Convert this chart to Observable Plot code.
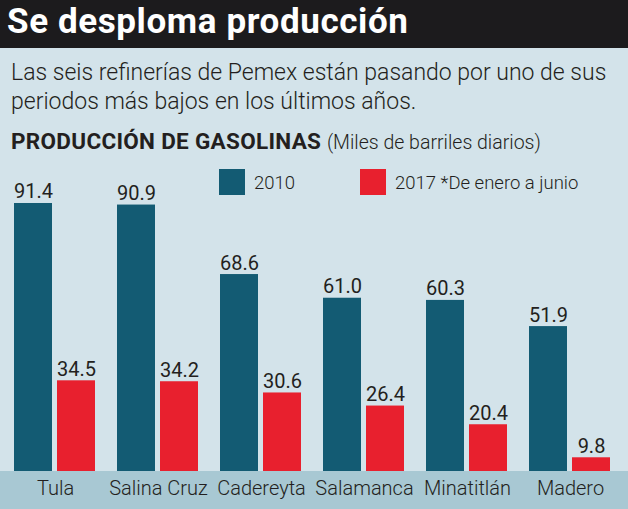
<!DOCTYPE html>
<html>
<head>
<meta charset="utf-8">
<script src="https://cdn.jsdelivr.net/npm/d3@7"></script>
<script src="https://cdn.jsdelivr.net/npm/@observablehq/plot@0.6"></script>
<style>
  html, body { margin: 0; padding: 0; }
  body { width: 628px; height: 509px; overflow: hidden; font-family: Roboto, "Open Sans", sans-serif; color: #231f20; }
  #wrap { position: relative; width: 628px; height: 509px; background: #d3e3ea; }
  #title { position: absolute; left: 0; top: 0; width: 628px; height: 48px; background: #1c1b1d; color: #fff;
           font-weight: 700; font-size: 35px; line-height: 43px; padding-left: 7px; box-sizing: border-box; letter-spacing: 0.6px; }
  #sub { position: absolute; left: 11px; top: 58px; font-size: 23px; line-height: 29px; font-weight: 300; color: #231f20; white-space: nowrap; }
  #head { position: absolute; left: 11px; top: 128px; font-size: 22.5px; line-height: 26px; white-space: nowrap; }
  #head b { font-weight: 700; letter-spacing: 0.3px; }
  #head span { font-size: 19.5px; font-weight: 300; }
  .lg { position: absolute; top: 169px; width: 26px; height: 26px; }
  .lt { position: absolute; top: 171px; font-size: 18.5px; line-height: 24px; font-weight: 300; white-space: nowrap; }
  #chart { position: absolute; left: 0; top: 155px; }
</style>
</head>
<body>
<div id="wrap">
  <div id="title">Se desploma producción</div>
  <div id="sub">Las seis refinerías de Pemex están pasando por uno de sus<br>periodos más bajos en los últimos años.</div>
  <div id="head"><b>PRODUCCIÓN DE GASOLINAS</b> <span>(Miles de barriles diarios)</span></div>
  <div id="chart"></div>
  <div class="lg" style="left:219px;background:#135b73"></div>
  <div class="lt" style="left:254px">2010</div>
  <div class="lg" style="left:360px;background:#e8202e"></div>
  <div class="lt" style="left:395px">2017 *De enero a junio</div>
</div>
<script>
const refinerias = ["Tula", "Salina Cruz", "Cadereyta", "Salamanca", "Minatitlán", "Madero"];
const series = ["2010", "2017"];
const valores2010 = [91.4, 90.9, 68.6, 61.0, 60.3, 51.9];
const valores2017 = [34.5, 34.2, 30.6, 26.4, 20.4, 9.8];
const colores = ["#135b73", "#e8202e"];

const data = refinerias.flatMap((r, i) => [
  {ref: r, serie: series[0], value: valores2010[i]},
  {ref: r, serie: series[1], value: valores2017[i]}
]);

const chart = Plot.plot({
  width: 628,
  height: 354,
  marginLeft: 11,
  marginRight: 14,
  marginTop: 0,
  marginBottom: 38,
  style: {
    fontFamily: "Roboto, sans-serif",
    color: "#231f20",
    background: "linear-gradient(to bottom, transparent 316px, #a8c8d3 316px)",
    overflow: "visible"
  },
  fx: {domain: refinerias, paddingInner: 0.2019, paddingOuter: 0, label: null},
  x: {domain: series, paddingInner: 0.1136, paddingOuter: 0, axis: null},
  y: {domain: [5.4, 106.8], axis: null},
  color: {domain: series, range: colores},
  marks: [
    Plot.barY(data, {fx: "ref", x: "serie", y: "value", fill: "serie", clip: true}),
    Plot.text(data, {fx: "ref", x: "serie", y: "value", text: d => d.value.toFixed(1),
      lineAnchor: "bottom", dy: -5, fontSize: 20, fill: "#231f20", fontWeight: 400}),
    Plot.axisFx({anchor: "bottom", tickSize: 0, tickPadding: 9, fontSize: 20, label: null, fontWeight: 300})
  ]
});
document.getElementById("chart").appendChild(chart);
</script>
</body>
</html>
